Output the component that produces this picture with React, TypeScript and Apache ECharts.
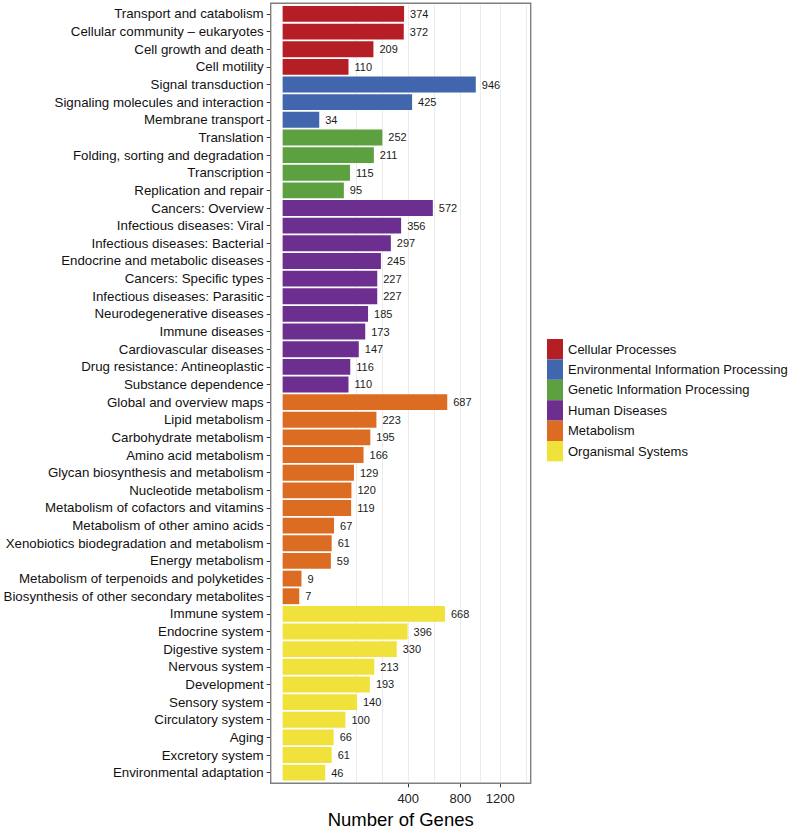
import React, { useEffect, useRef } from "react";
import * as echarts from "echarts";

const groups = [
  "Cellular Processes",
  "Environmental Information Processing",
  "Genetic Information Processing",
  "Human Diseases",
  "Metabolism",
  "Organismal Systems",
];
const groupColors = ["#B41E24", "#4166AE", "#5CA03F", "#6C2F8F", "#DC6C21", "#F1E23B"];

const categories = [
  "Transport and catabolism",
  "Cellular community \u2013 eukaryotes",
  "Cell growth and death",
  "Cell motility",
  "Signal transduction",
  "Signaling molecules and interaction",
  "Membrane transport",
  "Translation",
  "Folding, sorting and degradation",
  "Transcription",
  "Replication and repair",
  "Cancers: Overview",
  "Infectious diseases: Viral",
  "Infectious diseases: Bacterial",
  "Endocrine and metabolic diseases",
  "Cancers: Specific types",
  "Infectious diseases: Parasitic",
  "Neurodegenerative diseases",
  "Immune diseases",
  "Cardiovascular diseases",
  "Drug resistance: Antineoplastic",
  "Substance dependence",
  "Global and overview maps",
  "Lipid metabolism",
  "Carbohydrate metabolism",
  "Amino acid metabolism",
  "Glycan biosynthesis and metabolism",
  "Nucleotide metabolism",
  "Metabolism of cofactors and vitamins",
  "Metabolism of other amino acids",
  "Xenobiotics biodegradation and metabolism",
  "Energy metabolism",
  "Metabolism of terpenoids and polyketides",
  "Biosynthesis of other secondary metabolites",
  "Immune system",
  "Endocrine system",
  "Digestive system",
  "Nervous system",
  "Development",
  "Sensory system",
  "Circulatory system",
  "Aging",
  "Excretory system",
  "Environmental adaptation",
];

const geneCounts = [
  374, 372, 209, 110,
  946, 425, 34,
  252, 211, 115, 95,
  572, 356, 297, 245, 227, 227, 185, 173, 147, 116, 110,
  687, 223, 195, 166, 129, 120, 119, 67, 61, 59, 9, 7,
  668, 396, 330, 213, 193, 140, 100, 66, 61, 46,
];

const groupIndex = [
  0, 0, 0, 0,
  1, 1, 1,
  2, 2, 2, 2,
  3, 3, 3, 3, 3, 3, 3, 3, 3, 3, 3,
  4, 4, 4, 4, 4, 4, 4, 4, 4, 4, 4, 4,
  5, 5, 5, 5, 5, 5, 5, 5, 5, 5,
];

const xTickValues = [400, 800, 1200];

const FONT = "'Liberation Sans', Arial, Helvetica, sans-serif";

export default function App() {
  const ref = useRef<HTMLDivElement>(null);
  useEffect(() => {
    if (!ref.current) return;
    const chart = echarts.init(ref.current, null, { renderer: "svg" });

    // square-root transformed axis (like ggplot scale_x_sqrt)
    const t = (v: number) => Math.sqrt(v);
    const majors = xTickValues.map(t);
    const bd = majors[1] - majors[0];
    const ext = [majors[0] - bd, ...majors, majors[majors.length - 1] + bd];
    const minorLines: number[] = [];
    for (let i = 0; i < ext.length - 1; i++) {
      minorLines.push(ext[i], (ext[i] + ext[i + 1]) / 2);
    }
    const xMin = -1.9;
    const xMax = 39.5;
    const gridLines = minorLines.filter((v) => v > 0 && v < xMax);

    const series: any[] = groups.map((g, gi) => ({
      name: g,
      type: "bar",
      stack: "all",
      barCategoryGap: "10%",
      z: 2,
      itemStyle: { color: groupColors[gi] },
      label: {
        show: true,
        position: "right",
        distance: 6,
        fontFamily: FONT,
        fontSize: 11,
        color: "#1a1a1a",
        formatter: (p: any) => (p.data && p.data.raw != null ? String(p.data.raw) : ""),
      },
      data: geneCounts.map((v, i) =>
        groupIndex[i] === gi ? { value: t(v), raw: v } : "-"
      ),
    }));
    series.push({
      name: "__grid",
      type: "line",
      data: [],
      z: 0,
      silent: true,
      markLine: {
        silent: true,
        z: 0,
        symbol: "none",
        label: { show: false },
        lineStyle: { color: "#EBEBEB", width: 1, type: "solid" },
        data: gridLines.map((v) => ({ xAxis: v })),
      },
    });

    chart.setOption({
      animation: false,
      backgroundColor: "#ffffff",
      grid: {
        left: 270.7,
        right: 258.3,
        top: 5.1,
        bottom: 47.5,
        containLabel: false,
        outerBoundsMode: "none",
      },
      xAxis: {
        type: "value",
        min: xMin,
        max: xMax,
        offset: 1.8,
        axisLine: { show: false, onZero: false },
        splitLine: { show: false },
        axisTick: {
          show: true,
          length: 4,
          customValues: majors,
          lineStyle: { color: "#333333", width: 1 },
        },
        axisLabel: {
          customValues: majors,
          margin: 9,
          fontFamily: FONT,
          fontSize: 13,
          color: "#222222",
          formatter: (v: number) => String(Math.round(v * v)),
        },
        name: "Number of Genes",
        nameLocation: "middle",
        nameGap: 19,
        nameTextStyle: { fontFamily: FONT, fontSize: 18.5, color: "#000000", verticalAlign: "top" },
      },
      yAxis: {
        type: "category",
        inverse: true,
        data: categories,
        axisLine: { show: false, onZero: false },
        axisTick: {
          show: true,
          length: 4,
          alignWithLabel: true,
          lineStyle: { color: "#333333", width: 1 },
        },
        axisLabel: {
          margin: 7,
          fontFamily: FONT,
          fontSize: 13.3,
          color: "#111111",
          interval: 0,
        },
        splitLine: { show: false },
      },
      legend: {
        data: groups,
        orient: "vertical",
        left: 542,
        top: 334,
        itemWidth: 16,
        itemHeight: 20.4,
        itemGap: 0,
        icon: "rect",
        selectedMode: false,
        textStyle: { fontFamily: FONT, fontSize: 13, color: "#111111" },
      },
      graphic: [
        {
          type: "rect",
          z: 100,
          silent: true,
          shape: { x: 270.7, y: 3.3, width: 260, height: 780 },
          style: { fill: "none", stroke: "#7F7F7F", lineWidth: 1.4 },
        },
      ],
      series,
    });
    return () => chart.dispose();
  }, []);
  return <div ref={ref} style={{ width: 789, height: 829, position: "absolute", left: 0, top: 0 }} />;
}
